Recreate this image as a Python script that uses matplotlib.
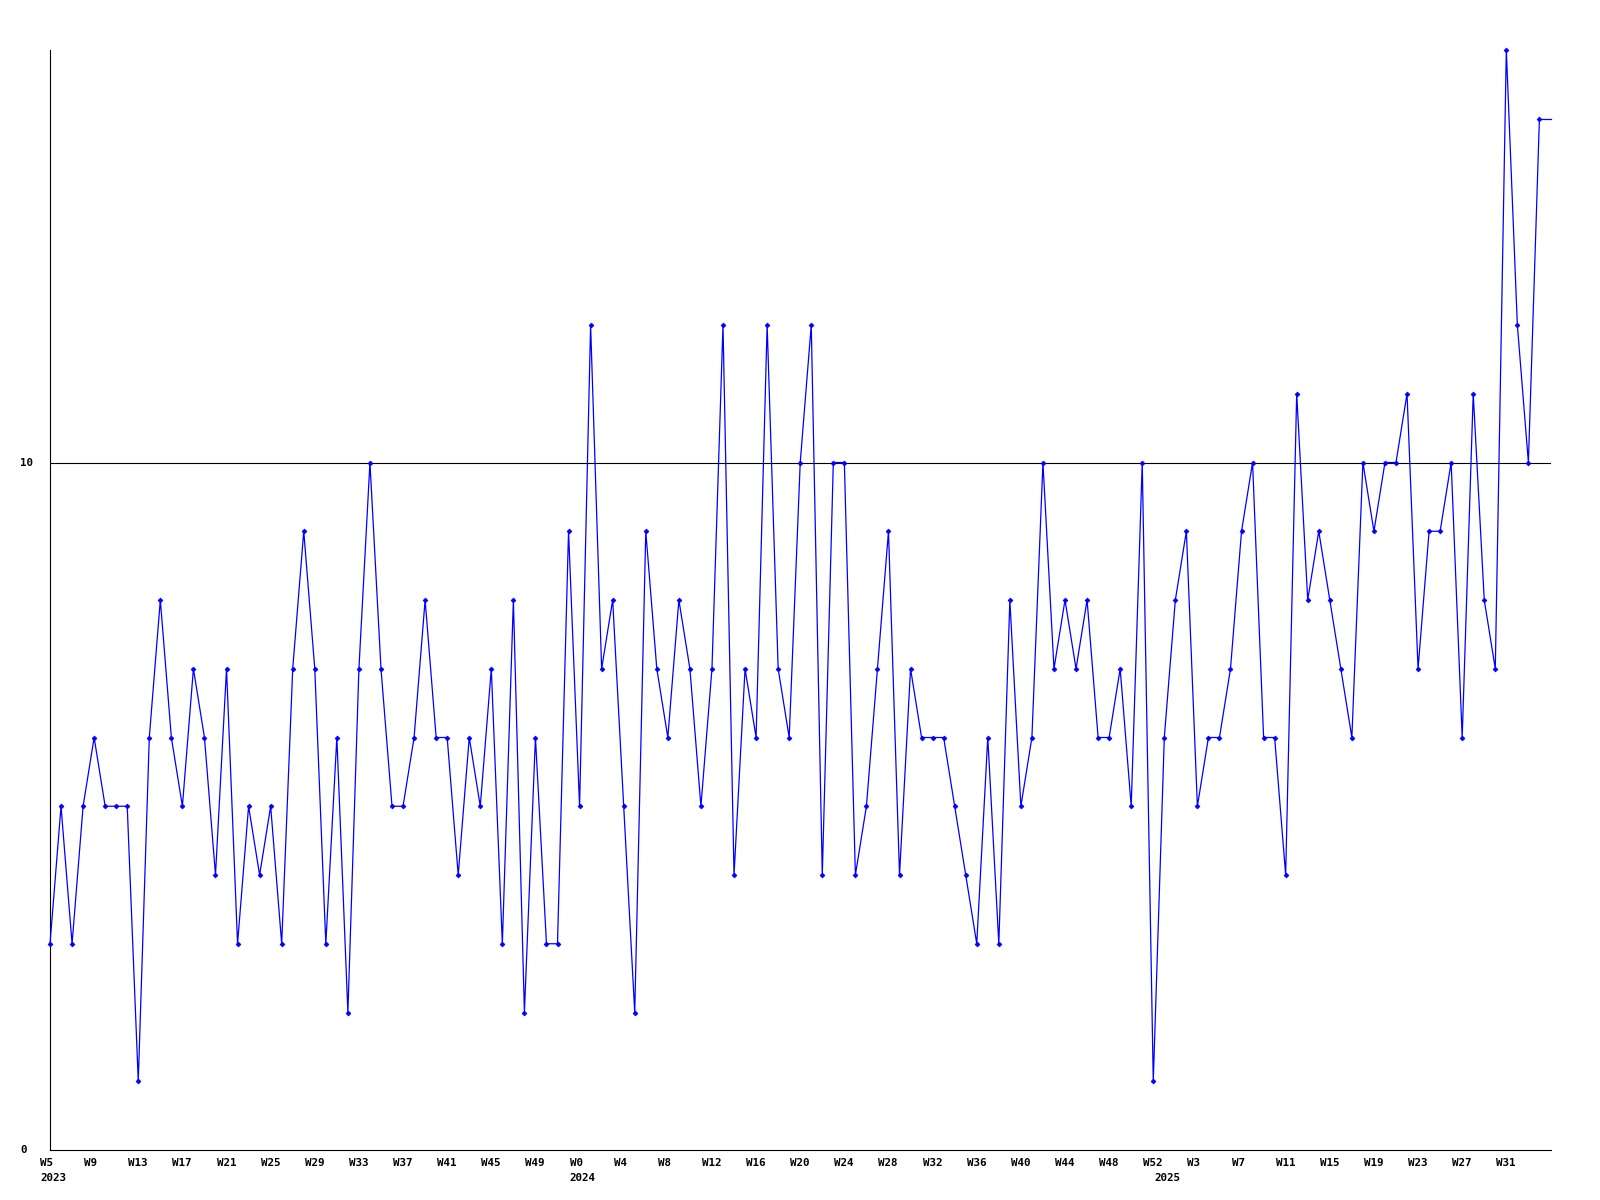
import matplotlib
matplotlib.use("Agg")
import matplotlib.pyplot as plt
import numpy as np
from matplotlib.transforms import blended_transform_factory, ScaledTranslation

# Weekly values, 2023 W5 .. 2025 W34
values = [3, 5, 3, 5, 6, 5, 5, 5, 1, 6, 8, 6, 5, 7, 6, 4, 7, 3, 5, 4,
          5, 3, 7, 9, 7, 3, 6, 2, 7, 10, 7, 5, 5, 6, 8, 6, 6, 4, 6, 5,
          7, 3, 8, 2, 6, 3, 3, 9, 5, 12, 7, 8, 5, 2, 9, 7, 6, 8, 7, 5,
          7, 12, 4, 7, 6, 12, 7, 6, 10, 12, 4, 10, 10, 4, 5, 7, 9, 4, 7, 6,
          6, 6, 5, 4, 3, 6, 3, 8, 5, 6, 10, 7, 8, 7, 8, 6, 6, 7, 5, 10,
          1, 6, 8, 9, 5, 6, 6, 7, 9, 10, 6, 6, 4, 11, 8, 9, 8, 7, 6, 10,
          9, 10, 10, 11, 7, 9, 9, 10, 6, 11, 8, 7, 16, 12, 10, 15]

week_labels = ["W5", "W9", "W13", "W17", "W21", "W25", "W29", "W33", "W37",
               "W41", "W45", "W49", "W0", "W4", "W8", "W12", "W16", "W20",
               "W24", "W28", "W32", "W36", "W40", "W44", "W48", "W52", "W3",
               "W7", "W11", "W15", "W19", "W23", "W27", "W31"]
year_labels = ["2023", "2024", "2025"]
year_index = [0, 48, 101]

y_ticks = [0, 10]
y_max = 16

W, H = 1600, 1200
fig = plt.figure(figsize=(W / 100, H / 100), dpi=100)
ax = fig.add_axes([50 / W, 50 / H, (1551 - 50) / W, (1150 - 50) / H])

n = len(values)
x = np.arange(n)
x_right = n - 1 + 1.05

ax.set_xlim(0, x_right)
ax.set_ylim(0, y_max)

for s in ["top", "right"]:
    ax.spines[s].set_visible(False)
for s in ["left", "bottom"]:
    ax.spines[s].set_color("black")
    ax.spines[s].set_linewidth(0.8)

ax.set_xticks([])
ax.set_yticks([])

# reference line at 10
for t in y_ticks:
    if t > 0:
        ax.axhline(t, color="black", lw=0.8, zorder=1)

blue = "#0000ff"
ax.plot(x, values, color=blue, lw=0.9, marker="D", ms=2.4, mew=0.6,
        zorder=3, clip_on=False)
ax.plot([x[-1], x_right], [values[-1], values[-1]], color=blue, lw=0.9,
        zorder=3, clip_on=False)

font = dict(family="DejaVu Sans Mono", fontweight="bold", fontsize=7.8)

# y labels (left aligned at x=20px)
ty = blended_transform_factory(fig.transFigure, ax.transData)
for t in y_ticks:
    fig.text(20 / W, t, str(t), transform=ty, ha="left", va="center", **font)

# x labels: left edge 10px before tick
tx = blended_transform_factory(ax.transData, fig.transFigure) + \
    ScaledTranslation(-10 / 100, 0, fig.dpi_scale_trans)
tick_idx = list(range(0, n, 4))
for i, lab in zip(tick_idx, week_labels):
    ax.text(i, (H - 1166) / H, lab, transform=tx, ha="left",
            va="baseline", clip_on=False, **font)
for i, lab in zip(year_index, year_labels):
    ax.text(i, (H - 1181) / H, lab, transform=tx, ha="left",
            va="baseline", clip_on=False, **font)

fig.savefig("out.png", dpi=100, facecolor="white")
